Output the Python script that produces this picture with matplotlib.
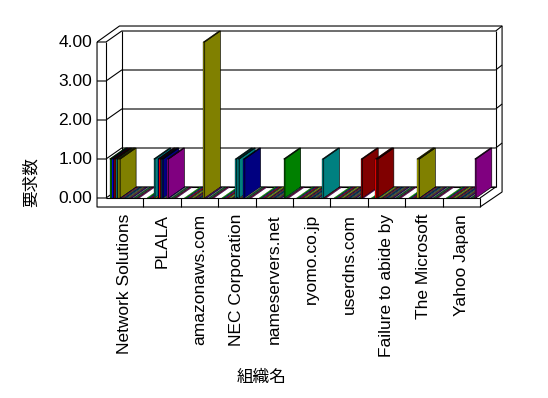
import matplotlib
matplotlib.use("Agg")
import matplotlib.pyplot as plt
from matplotlib.patches import Polygon

plt.rcParams['font.family'] = ['Liberation Sans', 'Noto Sans CJK JP']

organizations = ['Network Solutions', 'PLALA', 'amazonaws.com', 'NEC Corporation',
                 'nameservers.net', 'ryomo.co.jp', 'userdns.com', 'Failure to abide by',
                 'The Microsoft', 'Yahoo Japan']
y_ticks = [0, 1, 2, 3, 4]

# requests per organization, one column per series (22 series, legend not shown)
requests = [
    [1, 1, 1, 1, 1, 1, 1, 1, 0, 0, 0, 0, 0, 0, 0, 0, 0, 0, 0, 0, 0, 0],
    [0, 0, 0, 0, 0, 1, 0, 0, 1, 1, 1, 1, 0, 0, 0, 1, 0, 0, 0, 0, 0, 0],
    [0, 0, 0, 0, 0, 0, 0, 0, 0, 0, 0, 0, 0, 0, 4, 0, 0, 0, 0, 0, 0, 0],
    [0, 0, 0, 0, 0, 0, 0, 0, 0, 0, 1, 0, 1, 0, 0, 0, 1, 0, 0, 0, 0, 0],
    [0, 0, 0, 0, 0, 0, 0, 0, 0, 0, 0, 0, 0, 0, 0, 0, 0, 0, 1, 0, 0, 0],
    [0, 0, 0, 0, 0, 0, 0, 0, 0, 0, 0, 0, 0, 0, 0, 0, 0, 0, 0, 1, 0, 0],
    [0, 0, 0, 0, 0, 0, 0, 0, 0, 0, 0, 0, 0, 0, 0, 0, 0, 0, 0, 0, 1, 0],
    [0, 0, 0, 1, 1, 0, 0, 0, 0, 0, 0, 0, 0, 0, 0, 0, 0, 0, 0, 0, 0, 0],
    [0, 0, 0, 0, 0, 0, 1, 1, 0, 0, 0, 0, 0, 0, 0, 0, 0, 0, 0, 0, 0, 0],
    [0, 0, 0, 0, 0, 0, 0, 0, 0, 0, 0, 0, 0, 0, 0, 0, 0, 0, 0, 0, 0, 1],
]

series_colors = ['#00FF00', '#008000', '#0000FF', '#FF0000', '#800000', '#008080',
                 '#FFFF00', '#808000', '#000080', '#FF0000', '#008080', '#000080',
                 '#008080', '#808080', '#808000', '#800080', '#000080', '#C0C0C0',
                 '#008000', '#008080', '#800000', '#800080']

# fake 3d geometry (data units)
DX, DY = 0.42, 0.282      # depth of the floor
W = 0.0364                # width of one series bar
OFF = 0.094               # gap before first bar in a category
SLAB = 0.231              # thickness of floor slab (value units)
WALL = 0.24               # thickness of left wall (category units)

fig = plt.figure(figsize=(5.48, 3.98), dpi=100)
ax = fig.add_axes([106 / 548, 200 / 398, 374 / 548, 156 / 398])
ax.set_xlim(0, 10)
ax.set_ylim(0, 4)
ax.axis('off')


def line(xs, ys):
    ax.plot(xs, ys, color='black', lw=0.8, clip_on=False, zorder=1,
            solid_capstyle='butt')


def poly(pts, fc, z, lw=0.45):
    ax.add_patch(Polygon(pts, closed=True, facecolor=fc, edgecolor='black',
                         linewidth=lw, clip_on=False, zorder=z))


ncat = len(organizations)
top = y_ticks[-1]

# walls and floor frame
line([-WALL, -WALL, ncat, ncat + DX + 0.17, ncat + DX + 0.17, DX - 0.06, -WALL],
     [top, -SLAB, -SLAB, 0.154, top + DY + 0.128, top + DY + 0.128, top])
line([0, 0], [0, top])
line([-WALL, 0, DX, ncat + DX, ncat + DX + 0.17], [top, top, top + DY, top + DY, top + DY + 0.128])
line([DX, DX], [DY, top + DY])
line([ncat + DX, ncat + DX], [DY, top + DY])
line([0, ncat], [0, 0])
line([ncat, ncat + DX], [0, DY])
line([DX, ncat + DX], [DY, DY])
line([ncat, ncat], [-SLAB, 0])
for v in y_ticks[:-1]:
    line([-WALL, 0, DX, ncat + DX], [v, v, v + DY, v + DY])
    if v > 0:
        line([ncat + DX, ncat + DX + 0.17], [v + DY, v + DY + 0.128])
for c in range(1, ncat):
    line([c, c], [-SLAB, 0])

# bars, drawn left to right so nearer faces cover farther ones
z = 2
for c, row in enumerate(requests):
    for s, h in enumerate(row):
        x0 = c + OFF + s * W
        x1 = x0 + W
        col = series_colors[s]
        if h > 0:
            poly([(x0, 0), (x1, 0), (x1, h), (x0, h)], col, z, lw=0.2)
            poly([(x1, 0), (x1 + DX, DY), (x1 + DX, h + DY), (x1, h)], col, z)
            poly([(x0, h), (x1, h), (x1 + DX, h + DY), (x0 + DX, h + DY)], col, z)
        else:
            poly([(x0, 0), (x1, 0), (x1 + DX, DY), (x0 + DX, DY)], col, z, lw=0.2)
        z += 1

for v in y_ticks:
    ax.text(-0.374, v, '%.2f' % v, ha='right', va='center', fontsize=12.5)
for c, name in enumerate(organizations):
    ax.text(c + 0.5, -0.41, name, rotation=90, ha='center', va='top', fontsize=12.5)

fig.text(31 / 548, 1 - 182 / 398, '要求数', rotation=90, ha='center', va='center', fontsize=12)
fig.text(262 / 548, 1 - 377 / 398, '組織名', ha='center', va='center', fontsize=12)

fig.savefig('out.png', dpi=100)
